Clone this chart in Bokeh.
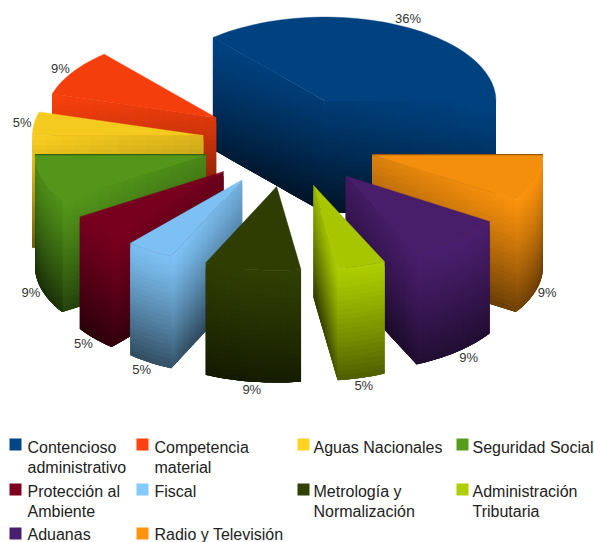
import numpy as np
from bokeh.embed import file_html
from bokeh.models import ColumnDataSource, Range1d
from bokeh.plotting import figure
from bokeh.resources import INLINE
from bokeh.core.properties import value

# --- data ---
categories = ["Contencioso\nadministrativo", "Competencia\nmaterial", "Aguas Nacionales",
              "Seguridad Social", "Protección al\nAmbiente", "Fiscal", "Metrología y\nNormalización",
              "Administración\nTributaria", "Aduanas", "Radio y Televisión"]
counts = [8, 2, 1, 2, 1, 1, 2, 1, 2, 2]
colors = ["#004586", "#ff420e", "#ffd320", "#579d1c", "#7e0021",
          "#83caff", "#314004", "#aecf00", "#4b1f6f", "#ff950e"]

# --- layout of the oblique 3D view (page pixels) ---
W, H = 594, 542
CX, CY = 288.5, 141.5      # pie axis on the top plane
RX, RY = 171.0, 84.0       # ellipse radii of the top face
EX, EY = 86.5, 45.0        # explosion of each slice along its mid angle
DEPTH = 112.0              # height of the pie
ROWS = 24                  # rows of the shading mesh

p = figure(width=W, height=H, output_backend="svg", toolbar_location=None,
           x_range=Range1d(0, W), y_range=Range1d(H, 0), min_border=0)
p.axis.visible = False
p.grid.visible = False
p.outline_line_color = None
p.background_fill_color = "#ffffff"


def rgb(col, f):
    c = [int(col[i:i + 2], 16) for i in (1, 3, 5)]
    return "#%02x%02x%02x" % tuple(int(np.clip(v * f, 0, 255)) for v in c)


def light(theta):
    return 0.78 + 0.22 * np.clip(0.5 * np.cos(theta) - 0.85 * np.sin(theta), -1, 1)


def add_face(xs, ys, cs, px, py, tops, col, bottoms):
    """Mesh below the polyline px,py. Each cell overlaps its successors so no seams show."""
    last = len(px) - 1
    for i in range(last):
        j = min(i + 2, last)
        top_x = list(px[i:j + 1])
        top_y = list(py[i:j + 1])
        fac = (tops[i] + tops[i + 1]) / 2
        bot = (bottoms[i] + bottoms[i + 1]) / 2
        for r in range(ROWS):
            t0, t1 = r / ROWS, min(r + 2, ROWS) / ROWS
            tm = (r + 0.5) / ROWS
            f = fac * (1 - (1 - bot) * tm ** 1.2)
            xs.append(top_x + top_x[::-1])
            ys.append([v + DEPTH * t0 for v in top_y] + [v + DEPTH * t1 for v in top_y[::-1]])
            cs.append(rgb(col, f))


fractions = np.array(counts, float) / sum(counts)
edges = np.concatenate([[0.0], np.cumsum(fractions)]) * 2 * np.pi
mids = (edges[:-1] + edges[1:]) / 2
order = np.argsort(np.sin(mids) * -1)

label_x, label_y, label_t = [], [], []
for k in order:
    a0, a1, am = edges[k], edges[k + 1], mids[k]
    ax = CX + EX * np.cos(am)
    ay = CY - EY * np.sin(am)
    col = colors[k]
    n = max(6, int(counts[k] * 7))
    th = np.linspace(a0, a1, n + 1)
    rx = ax + RX * np.cos(th)
    ry = ay - RY * np.sin(th)

    xs, ys, cs = [], [], []
    # end faces visible when their normal looks towards the viewer
    for ang, normal in ((a0, a0 - np.pi / 2), (a1, a1 + np.pi / 2)):
        if np.sin(normal) < -1e-6:
            ex, ey = ax + RX * np.cos(ang), ay - RY * np.sin(ang)
            u = np.linspace(0, 1, 13)
            add_face(xs, ys, cs, ax + (ex - ax) * u, ay + (ey - ay) * u,
                     0.86 + 0.12 * u, col, 0.30 + 0.14 * u)
    # outer wall
    mask = np.sin(th) < 1e-6
    if mask.sum() > 1:
        lit = light(th[mask])
        add_face(xs, ys, cs, rx[mask], ry[mask], 1 - 0.4 * (1 - lit), col, 0.46 * lit)
    if xs:
        p.patches("xs", "ys", source=ColumnDataSource(dict(xs=xs, ys=ys, c=cs)),
                  fill_color="c", line_color=None)

    # top face
    p.patch(np.r_[ax, rx], np.r_[ay, ry], fill_color=rgb(col, 0.96),
            line_color=rgb(col, 0.96), line_width=0.4)

    # an end face seen exactly edge-on reads as a thin dark line
    for ang, normal in ((a0, a0 - np.pi / 2), (a1, a1 + np.pi / 2)):
        if abs(np.sin(ang)) < 1e-6 and np.sin(normal) > 0:
            p.line([ax, ax + RX * np.cos(ang)], [ay, ay], line_color=rgb(col, 0.6), line_width=1.2)

    # percentage label: beside the rim at the mid angle
    c_, s_ = np.cos(am), np.sin(am)
    lx = ax + RX * c_
    if s_ < 0:
        ly = ay - RY * s_ + DEPTH - 8 * s_
        lx += 11 * np.sign(c_) * min(1, (abs(c_) * 1.6) ** 2)
    else:
        ly = ay - RY * s_ - 7 * s_
        lx += 12 * np.sign(c_)
    label_x.append(lx)
    label_y.append(ly)
    label_t.append(f"{round(fractions[k] * 100)}%")

p.text(label_x, label_y, text=label_t, text_font=value("Liberation Sans"), text_font_size="13px",
       text_color="#333333", text_align="center", text_baseline="middle")

# legend
col_sq = [9, 136, 297, 456]
col_tx = [27, 154, 313, 472]
row_sq = [438, 483, 527]
row_tx = [447, 491, 534]
lx, ly, lt, sx, sy = [], [], [], [], []
for i, name in enumerate(categories):
    r, c = divmod(i, 4)
    sx.append(col_sq[c] + 6)
    sy.append(row_sq[r] + 6)
    for j, line in enumerate(name.split("\n")):
        lx.append(col_tx[c])
        ly.append(row_tx[r] + 20 * j)
        lt.append(line)
p.rect(sx, sy, width=12, height=12, fill_color=colors, line_color=None)
p.text(lx, ly, text=lt, text_font=value("Liberation Sans"), text_font_size="16px",
       text_color="#222222", text_align="left", text_baseline="middle")

open("out.html", "w").write(file_html(p, INLINE))
